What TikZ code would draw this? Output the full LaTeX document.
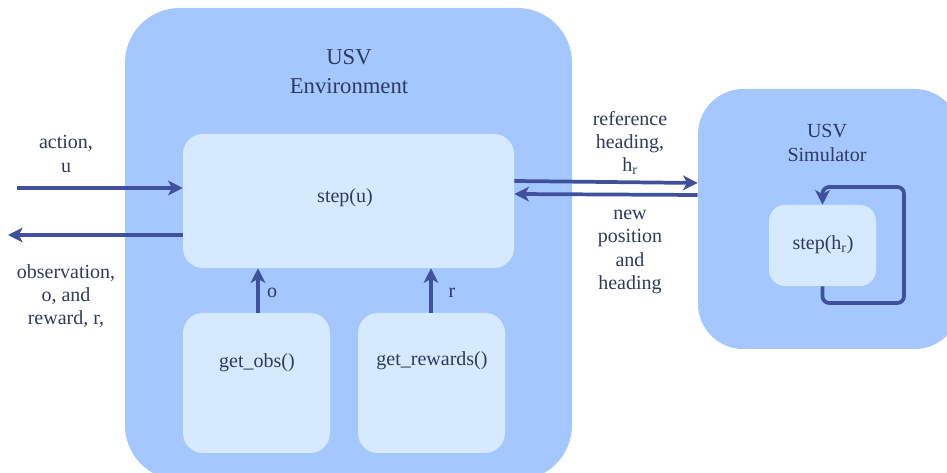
\documentclass[tikz,border=0pt]{standalone}
\usepackage{fontspec}
\setmainfont{Liberation Serif}
\usetikzlibrary{arrows.meta}
\definecolor{outerblue}{HTML}{A4C7FF}
\definecolor{innerblue}{HTML}{D5E9FF}
\definecolor{arrowblue}{HTML}{3F519C}
\definecolor{textblue}{HTML}{2E3A5E}
\tikzset{
  outerbox/.style={fill=outerblue, draw=none, rounded corners=#1, inner sep=0pt},
  innerbox/.style={fill=innerblue, draw=none, rounded corners=#1, inner sep=0pt},
  lbl/.style={text=textblue, font=\fontsize{15}{17.5}\selectfont, align=center, inner sep=0pt},
  title/.style={text=textblue, font=\fontsize{17}{21.75}\selectfont, align=center, inner sep=0pt},
  arr/.style={draw=arrowblue, line width=2.8pt, -{Stealth[length=11pt,width=11pt,inset=3pt]}},
}
\begin{document}
\begin{tikzpicture}[x=0.75pt,y=-0.75pt]
\useasboundingbox (0,0) rectangle (947,473);
\clip (0,0) rectangle (947,473);
% containers
\node[outerbox=41pt, minimum width=335.25pt, minimum height=354pt] (env) at (348.5,244) {};
\node[outerbox=34pt, minimum width=196.5pt, minimum height=195pt] (sim) at (829,219) {};
% inner blocks
\node[innerbox=15pt, minimum width=248.25pt, minimum height=100.5pt] (stepu) at (348.5,201) {};
\node[innerbox=15pt, minimum width=110.25pt, minimum height=105pt] (obs) at (256.5,383) {};
\node[innerbox=15pt, minimum width=110.25pt, minimum height=105pt] (rew) at (431.5,383) {};
\node[innerbox=12pt, minimum width=80.25pt, minimum height=60.75pt] (stephr) at (822.5,245.5) {};
% block texts
\node[title] (envtitle) at (349,72) {USV\\Environment};
\node[lbl] (simtitle) at (827,143) {USV\\Simulator};
\node[lbl] (steputxt) at (345,198) {step(u)};
\node[lbl] (obstxt) at (257,363) {get\_obs()};
\node[lbl] (rewtxt) at (432,361) {get\_rewards()};
\node[lbl] (stephrtxt) at (823,245) {step(h\textsubscript{r})};
% outside labels
\node[lbl] (actlbl) at (66,154) {action,\\u};
\node[lbl] (obslbl) at (66,296) {observation,\\o, and\\reward, r,};
\node[lbl] (reflbl) at (630,143) {reference\\heading,\\h\textsubscript{r}};
\node[lbl] (newlbl) at (630,252) {new\\position\\and\\heading};
\node[lbl] (olbl) at (272,293) {o};
\node[lbl] (rlbl) at (452,293) {r};
% connectors
\coordinate (actin) at (17,188);
\coordinate (obsout) at (8,235);
\draw[arr] (actin) -- (stepu.west |- actin);
\draw[arr] (stepu.west |- obsout) -- (obsout);
\draw[arr] (stepu.east |- 0,181) -- (sim.west |- 0,183);
\draw[arr] (sim.west |- 0,195) -- (stepu.east |- 0,194);
\draw[arr] (obs.north -| 258,0) -- (stepu.south -| 258,0);
\draw[arr] (rew.north -| 431,0) -- (stepu.south -| 431,0);
\draw[arr, rounded corners=5pt] (stephr.south) |- (904,303) |- (stephr.north |- 0,187) -- (stephr.north);
\end{tikzpicture}
\end{document}
